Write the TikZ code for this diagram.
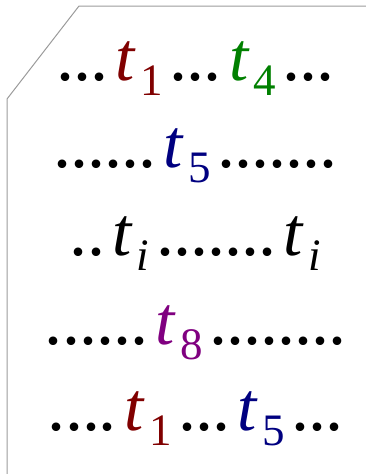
\documentclass[tikz,border=0pt]{standalone}
\usepackage{fontspec}
\setmainfont{Liberation Serif}
\definecolor{cmaroon}{RGB}{128,0,0}
\definecolor{cgreen}{RGB}{0,128,0}
\definecolor{cnavy}{RGB}{0,0,128}
\definecolor{cpurple}{RGB}{128,0,128}
\definecolor{cframe}{RGB}{155,155,155}
\newcommand{\dt}{\makebox[17pt][c]{\fontsize{72}{72}\selectfont .}}
\newcommand{\subfont}{\fontsize{45}{45}\selectfont}
\newcommand{\tsub}[2]{\hspace{8pt}{\color{#1}\textit{t}\hspace{4pt}\raisebox{-15pt}{\subfont #2}}\hspace{7pt}}
\newcommand{\tsubi}{\hspace{8pt}\textit{t}\hspace{4pt}\raisebox{-15pt}{\subfont\textit{i}}\hspace{7pt}}
\begin{document}
\begin{tikzpicture}[x=1pt,y=-1pt,
  rowtext/.style={anchor=base,inner sep=0pt,font=\fontsize{69}{69}\selectfont},
  frameline/.style={draw=cframe,line width=1pt}]
\useasboundingbox (0,0) rectangle (365,474);
\coordinate (tr) at (366,6);
\coordinate (tl) at (79,6);
\coordinate (bl) at (7,99);
\coordinate (bb) at (7,475);
\draw[frameline] (tr) -- (tl) -- (bl) -- (bb);
\node[rowtext] (r1) at (195.5,80) {\dt\dt\dt\tsub{cmaroon}{1}\dt\dt\dt\tsub{cgreen}{4}\dt\dt\dt};
\node[rowtext] (r2) at (195.5,167) {\dt\dt\dt\dt\dt\dt\tsub{cnavy}{5}\dt\dt\dt\dt\dt\dt\dt};
\node[rowtext] (r3) at (195.5,255) {\dt\dt\tsubi\dt\dt\dt\dt\dt\dt\dt\tsubi};
\node[rowtext] (r4) at (195.5,344) {\dt\dt\dt\dt\dt\dt\tsub{cpurple}{8}\dt\dt\dt\dt\dt\dt\dt\dt};
\node[rowtext] (r5) at (195.5,430) {\dt\dt\dt\dt\tsub{cmaroon}{1}\dt\dt\dt\tsub{cnavy}{5}\dt\dt\dt};
\end{tikzpicture}
\end{document}
